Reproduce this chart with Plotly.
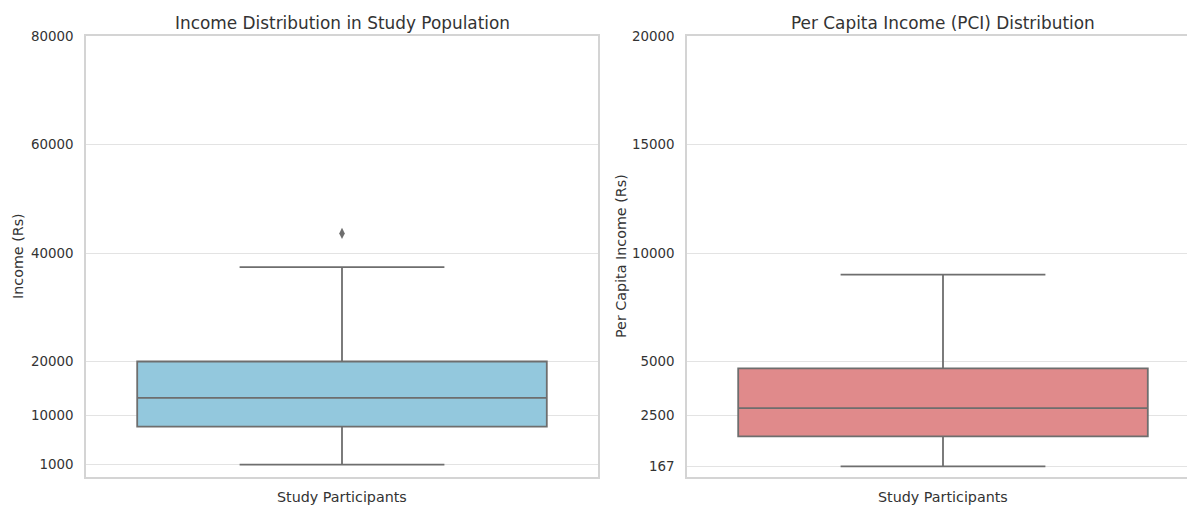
import plotly.graph_objects as go
from plotly.subplots import make_subplots

# Summary statistics for the study participants
group = ["Study Participants"]

income_lower = [1000]
income_q1 = [8000]
income_median = [13300]
income_q3 = [20000]
income_upper = [37400]
income_outliers = [43600]

pci_lower = [167]
pci_q1 = [1550]
pci_median = [2850]
pci_q3 = [4680]
pci_upper = [9000]

income_ticks = [1000, 10000, 20000, 40000, 60000, 80000]
pci_ticks = [167, 2500, 5000, 10000, 15000, 20000]

W, H = 1187, 506
ML, MR, MT, MB = 86, 0, 36, 29
PW = W - ML - MR
PH = H - MT - MB

FONT = "DejaVu Sans"
TEXT = "#333333"
EDGE = "#6e6e6e"
GRID = "#e3e3e3"
SPINE = "#d4d4d4"

fig = make_subplots(rows=1, cols=2)

fig.add_trace(go.Box(
    x=[0], q1=income_q1, median=income_median, q3=income_q3,
    lowerfence=income_lower, upperfence=income_upper,
    width=0.8, whiskerwidth=0.5,
    fillcolor="#93c8dd", line=dict(color=EDGE, width=1.8),
    boxpoints=False, showlegend=False, name=group[0],
), row=1, col=1)

fig.add_trace(go.Scatter(
    x=[0] * len(income_outliers), y=income_outliers, mode="markers",
    marker=dict(symbol="diamond-tall", size=8, color=EDGE, line=dict(width=0)),
    showlegend=False, hoverinfo="y",
), row=1, col=1)

fig.add_trace(go.Box(
    x=[0], q1=pci_q1, median=pci_median, q3=pci_q3,
    lowerfence=pci_lower, upperfence=pci_upper,
    width=0.8, whiskerwidth=0.5,
    fillcolor="#e08a8b", line=dict(color=EDGE, width=1.8),
    boxpoints=False, showlegend=False, name=group[0],
), row=1, col=2)

d1 = (598 - ML) / PW
d2 = (687 - ML) / PW

xcommon = dict(showgrid=False, zeroline=False, showticklabels=False, ticks="",
               showline=True, linecolor=SPINE, linewidth=1.5, mirror=True)
fig.update_xaxes(domain=[0, d1], range=[-0.5, 0.5], **xcommon, row=1, col=1)
fig.update_xaxes(domain=[d2, 1], range=[-0.5, -0.5 + (W - 687) / 512], **xcommon, row=1, col=2)

ycommon = dict(showgrid=True, gridcolor=GRID, gridwidth=1, zeroline=False,
               showline=True, linecolor=SPINE, linewidth=1.5,
               ticks="outside", ticklen=8, tickcolor="rgba(0,0,0,0)",
               tickfont=dict(family=FONT, size=13.4, color=TEXT))
fig.update_yaxes(range=[-1290, 80000], tickvals=income_ticks, mirror=True,
                 ticktext=[str(v) for v in income_ticks], **ycommon, row=1, col=1)
# the right-hand panel runs off the page edge, so no right spine there
fig.update_yaxes(range=[-323, 20000], tickvals=pci_ticks, mirror=False,
                 ticktext=[str(v) for v in pci_ticks], **ycommon, row=1, col=2)


def px(x):
    return (x - ML) / PW


def py(y):
    return (H - MB - y) / PH


ann = [
    dict(text="Income Distribution in Study Population", x=px(342), y=py(23), size=16.9),
    dict(text="Per Capita Income (PCI) Distribution", x=px(943), y=py(23), size=16.9),
    dict(text="Study Participants", x=px(342), y=py(497), size=14.3),
    dict(text="Study Participants", x=px(943), y=py(497), size=14.3),
    dict(text="Income (Rs)", x=px(18), y=py(256), size=14.3, angle=-90),
    dict(text="Per Capita Income (Rs)", x=px(621), y=py(256), size=14.3, angle=-90),
]
annotations = []
for a in ann:
    annotations.append(dict(
        text=a["text"], x=a["x"], y=a["y"], xref="paper", yref="paper",
        xanchor="center", yanchor="middle", showarrow=False,
        textangle=a.get("angle", 0),
        font=dict(family=FONT, size=a["size"], color=TEXT),
    ))

fig.update_layout(
    width=W, height=H,
    margin=dict(l=ML, r=MR, t=MT, b=MB, pad=0),
    paper_bgcolor="white", plot_bgcolor="white",
    annotations=annotations,
    font=dict(family=FONT, color=TEXT),
)

fig.write_html("out.html")
